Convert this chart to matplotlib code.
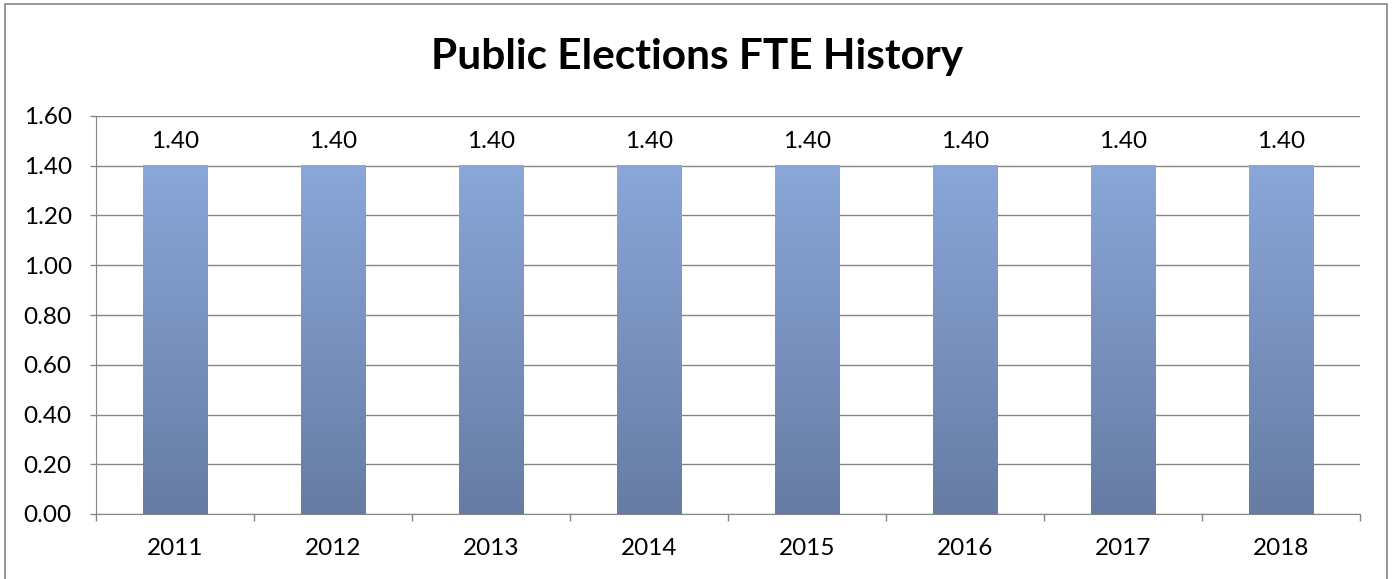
import numpy as np
import matplotlib
matplotlib.use('Agg')
import matplotlib.pyplot as plt
from matplotlib.colors import LinearSegmentedColormap
from matplotlib.patches import Rectangle

years = ['2011', '2012', '2013', '2014', '2015', '2016', '2017', '2018']
fte = [1.40, 1.40, 1.40, 1.40, 1.40, 1.40, 1.40, 1.40]

plt.rcParams['font.family'] = ['Lato', 'DejaVu Sans']

fig = plt.figure(figsize=(13.95, 5.79), dpi=100)
ax = fig.add_axes([96/1395, 1 - 514/579, (1360 - 96)/1395, (514 - 116)/579])

# gradient bars, dark at bottom, light at top
cmap = LinearSegmentedColormap.from_list('bar', ['#667ca3', '#8aa7d9'])
grad = np.linspace(0, 1, 256).reshape(-1, 1)
width = 0.41
x = np.arange(len(years))
for xi, v in zip(x, fte):
    ax.imshow(grad, cmap=cmap, origin='lower', aspect='auto',
              extent=(xi - width/2, xi + width/2, 0, v), zorder=3)
    ax.text(xi, v + 0.055, f'{v:.2f}', ha='center', va='bottom', fontsize=17.5)

ax.set_xlim(-0.5, len(years) - 0.5)
ax.set_ylim(0, 1.6)
ax.set_yticks(np.arange(0, 1.61, 0.2))
ax.set_yticklabels([f'{t:.2f}' for t in np.arange(0, 1.61, 0.2)], fontsize=17.5)
ax.set_xticks(x)
ax.set_xticklabels(years, fontsize=17.5)
ax.set_xticks(np.arange(-0.5, len(years)), minor=True)
ax.tick_params(axis='x', which='major', length=0, pad=17)
ax.tick_params(axis='x', which='minor', length=5, color='#868686', width=1)
ax.tick_params(axis='y', length=4.5, color='#868686', width=1, pad=13)
ax.yaxis.grid(True, color='#868686', lw=1)
ax.set_axisbelow(True)
for s in ['top', 'right']:
    ax.spines[s].set_visible(False)
for s in ['left', 'bottom']:
    ax.spines[s].set_color('#868686')
    ax.spines[s].set_zorder(4)

fig.text(0.5, 1 - 57/579, 'Public Elections FTE History', ha='center', va='center',
         fontsize=30.5, fontweight='bold')

# chart border (bottom edge falls outside the image)
fig.patches.append(Rectangle((5/1395, -0.05), 1382/1395, 1.05 - 4/579, transform=fig.transFigure,
                             fill=False, edgecolor='#868686', lw=1.2))

fig.savefig('out.png', dpi=100)
